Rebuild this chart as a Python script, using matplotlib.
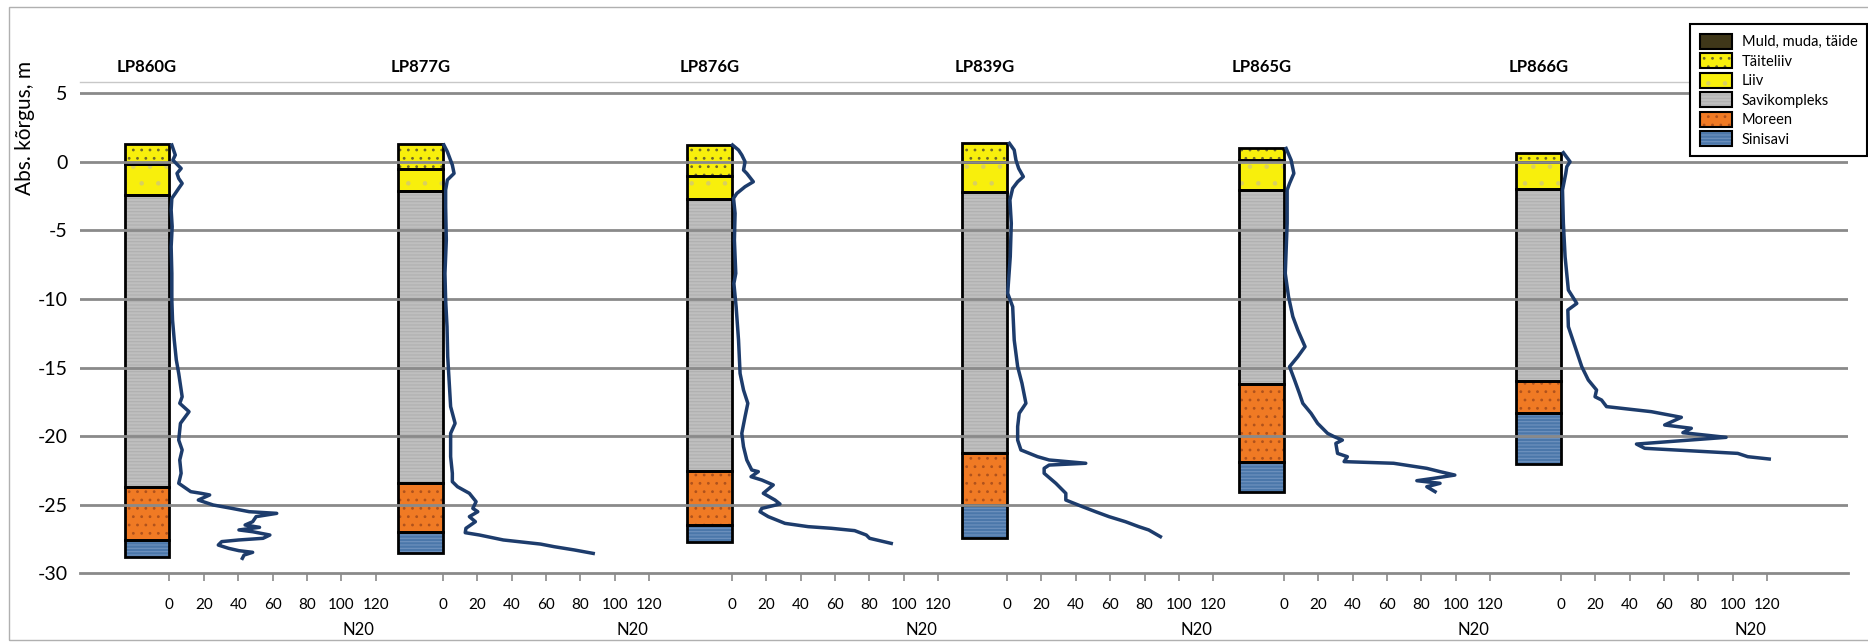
import matplotlib
matplotlib.use("Agg")
import matplotlib.pyplot as plt
import matplotlib.transforms as mtransforms
from matplotlib.patches import Patch, Rectangle
from matplotlib.legend_handler import HandlerTuple

plt.rcParams['font.family'] = ['Lato', 'DejaVu Sans']
plt.rcParams['hatch.linewidth'] = 0.8

# borehole names and where each N20 scale starts (N20 units along the shared x axis)
names = ['LP860G', 'LP877G', 'LP876G', 'LP839G', 'LP865G', 'LP866G']
origins = [52, 211, 379, 539, 700, 861]

# layer boundaries (abs. elevation, m) and lithology of each layer
bounds = [
    [1.3, -0.2, -2.4, -23.7, -27.6, -28.8],
    [1.3, -0.5, -2.1, -23.45, -27.0, -28.5],
    [1.2, -1.05, -2.7, -22.55, -26.5, -27.7],
    [1.4, 0.0, -2.2, -21.25, -25.0, -27.45],
    [1.0, 0.15, -2.05, -16.2, -21.9, -24.05],
    [0.65, 0.0, -2.0, -16.0, -18.3, -22.0],
]
layers = ['Täiteliiv', 'Liiv', 'Savikompleks', 'Moreen', 'Sinisavi']

# N20 soundings: blow counts and elevation
n20_1 = [1.4, 3.4, 2.0, 6.8, 4.4, 5.4, 7.4, 5.4, 3.4, 1.4, 1.0, 1.6, 1.0, 1.4, 1.4, 1.8, 2.8, 4.0, 5.4,
         7.4, 6.0, 11.4, 6.4, 5.4, 7.4, 6.0, 6.8, 5.4, 12.4, 18.4, 23.4, 16.8, 25.4, 36.4, 46.4, 62.4,
         50.4, 48.4, 44.0, 52.4, 40.4, 48.4, 58.4, 54.4, 40.4, 30.4, 28.4, 34.4, 40.4, 48.4, 43.4, 42.4]
z_1 = [1.22, 0.49, 0.12, -0.49, -0.85, -1.22, -1.58, -1.94, -2.31, -2.67, -3.52, -4.74, -6.19, -8.14,
       -10.08, -11.54, -13.0, -14.45, -15.43, -17.13, -17.61, -18.22, -19.07, -20.29, -21.01, -21.74,
       -22.71, -23.44, -24.05, -24.17, -24.29, -24.66, -25.02, -25.27, -25.51, -25.63, -25.87, -26.24,
       -26.48, -26.65, -26.84, -26.97, -27.21, -27.45, -27.57, -27.69, -27.94, -28.18, -28.35, -28.47,
       -28.67, -28.91]

n20_2 = [0.6, 2.6, 5.5, 6.5, 2.6, 1.6, 1.6, 2.0, 1.2, 1.6, 2.4, 2.8, 3.6, 4.5, 7.1, 4.5, 4.5, 5.5, 5.5,
         8.5, 15.4, 19.3, 17.4, 20.3, 15.4, 18.9, 13.4, 13.0, 21.3, 35.1, 56.8, 64.7, 76.5, 87.4]
z_2 = [1.22, 0.73, -0.24, -0.85, -1.33, -2.06, -3.28, -5.71, -8.14, -10.08, -12.02, -14.21, -15.91,
       -17.85, -19.07, -19.80, -21.5, -22.71, -23.32, -23.69, -24.17, -24.78, -25.27, -25.51, -25.87,
       -26.24, -26.72, -27.04, -27.21, -27.57, -27.87, -28.06, -28.30, -28.55]

n20_3 = [0.4, 3.9, 5.8, 7.7, 6.8, 8.7, 12.5, 7.7, 2.9, 1.0, 1.9, 1.5, 2.3, 1.2, 2.5, 3.9, 4.8, 6.8, 9.3,
         7.7, 5.8, 6.8, 8.7, 11.6, 15.4, 11.2, 17.4, 24.1, 18.3, 25.1, 28.0, 17.4, 16.4, 21.2, 30.9,
         44.4, 57.9, 71.4, 78.2, 80.1, 92.7]
z_3 = [1.22, 0.85, 0.49, 0.0, -0.61, -0.85, -1.46, -1.82, -2.31, -2.67, -3.76, -5.71, -8.14, -8.87,
       -10.57, -13.0, -15.43, -16.64, -17.61, -18.58, -19.80, -20.77, -21.74, -22.47, -22.59, -22.96,
       -23.20, -23.56, -24.17, -24.66, -24.95, -25.27, -25.51, -25.87, -26.36, -26.60, -26.72, -26.89,
       -27.21, -27.45, -27.82]

n20_4 = [1.4, 4.2, 5.2, 6.8, 9.5, 6.2, 3.3, 1.7, 2.5, 1.9, 0.4, 3.3, 4.2, 6.2, 8.7, 11.0, 7.1, 6.2, 6.2,
         8.1, 17.8, 24.5, 45.8, 24.5, 21.6, 21.6, 28.4, 34.2, 34.2, 43.8, 51.5, 59.3, 68.9, 76.6, 82.4,
         89.2]
z_4 = [1.34, 0.85, 0.12, -0.49, -1.09, -1.46, -1.94, -2.79, -4.49, -6.92, -9.59, -10.57, -13.0, -14.94,
       -16.15, -17.61, -18.34, -19.31, -20.29, -21.01, -21.5, -21.74, -21.98, -22.11, -22.35, -22.71,
       -23.44, -24.17, -24.66, -25.14, -25.51, -25.87, -26.24, -26.60, -26.84, -27.33]

n20_5 = [1.3, 4.2, 5.8, 3.3, 1.9, 1.9, 0.8, 2.7, 5.2, 8.1, 12.3, 8.1, 3.3, 6.2, 9.0, 11.0, 15.8, 19.6,
         25.4, 29.2, 34.0, 30.2, 31.2, 36.9, 35.0, 63.8, 83.1, 90.8, 99.4, 86.9, 77.3, 90.8, 83.1, 87.9]
z_5 = [0.97, 0.12, -0.85, -1.58, -2.06, -4.49, -8.14, -9.84, -11.29, -12.27, -13.48, -14.21, -14.94,
       -15.91, -16.88, -17.61, -18.34, -19.07, -19.80, -20.04, -20.29, -20.53, -21.26, -21.5, -21.86,
       -21.98, -22.35, -22.59, -22.84, -23.08, -23.25, -23.44, -23.69, -24.05]

n20_6 = [1.5, 5.4, 3.5, 2.9, 1.0, 1.5, 2.5, 4.4, 9.3, 4.1, 4.4, 8.3, 12.2, 16.0, 20.8, 19.9, 23.7, 26.6,
         52.7, 70.1, 60.4, 75.9, 71.0, 96.1, 44.0, 48.8, 85.5, 102.9, 108.7, 121.2]
z_6 = [0.66, 0.0, -0.36, -0.85, -2.06, -4.49, -6.92, -9.35, -10.33, -10.81, -12.02, -13.48, -14.94,
       -15.91, -16.64, -17.13, -17.37, -17.85, -18.22, -18.63, -19.19, -19.43, -19.75, -20.09, -20.58,
       -20.89, -21.14, -21.26, -21.50, -21.67]

soundings = [(n20_1, z_1), (n20_2, z_2), (n20_3, z_3), (n20_4, z_4), (n20_5, z_5), (n20_6, z_6)]

n20_ticks = [0, 20, 40, 60, 80, 100, 120]
y_ticks = [5, 0, -5, -10, -15, -20, -25, -30]

# fill colour, hatch, hatch colour of each soil type
styles = {
    'Muld, muda, täide': ('#3f3719', None, None),
    'Täiteliiv': ('#f8ef0c', '..', '#6f6a2a'),
    'Liiv': ('#f8ef0c', '.', '#d9d060'),
    'Savikompleks': ('#bfbfbf', '-----', '#b0b0b0'),
    'Moreen': ('#f07a24', '..', '#b0521c'),
    'Sinisavi': ('#4b77aa', '-----', '#7092bf'),
}

col_w = 26
line_col = '#1d3c6c'
grid_col = '#8a8a8a'

fig = plt.figure(figsize=(18.68, 6.43), dpi=100)
ax = fig.add_axes([80 / 1868, 1 - 573.3 / 643, 1768 / 1868, 491.7 / 643])
ax.set_xlim(0, 1028)
ax.set_ylim(-30, 5.84)

for name, x0, bnd, (n20, z) in zip(names, origins, bounds, soundings):
    xc = x0 - col_w / 2
    for lith, top, bot in zip(layers, bnd[:-1], bnd[1:]):
        fc, hatch, hc = styles[lith]
        ax.bar(xc, top - bot, col_w, bottom=bot, color=fc, lw=0, zorder=2)
        if hatch:
            ax.bar(xc, top - bot, col_w, bottom=bot, facecolor='none', edgecolor=hc,
                   hatch=hatch, lw=0, zorder=2.1)
        ax.bar(xc, top - bot, col_w, bottom=bot, facecolor='none', edgecolor='black',
               lw=2.0, zorder=2.2)
    ax.plot([x0 + v for v in n20], z, color=line_col, lw=2.5, zorder=4,
            solid_joinstyle='round')
    ax.text(xc, 1.03, name, transform=mtransforms.blended_transform_factory(ax.transData, ax.transAxes),
            ha='center', va='center', fontsize=12, fontweight='bold')
    ax.text(x0 + 110, -0.115, 'N20', transform=mtransforms.blended_transform_factory(ax.transData, ax.transAxes),
            ha='center', va='center', fontsize=12)

# horizontal grid over the columns
for y in y_ticks[:-1]:
    ax.axhline(y, color=grid_col, lw=2.0, zorder=3)

xt = [x0 + t for x0 in origins for t in n20_ticks]
xl = [str(t) for x0 in origins for t in n20_ticks]
ax.set_xticks(xt, xl)
ax.tick_params(axis='x', length=6, width=1.2, color=grid_col, pad=12, labelsize=11)
ax.set_yticks(y_ticks, [str(v) for v in y_ticks])
ax.tick_params(axis='y', length=0, pad=9, labelsize=14)

for s in ['left', 'right']:
    ax.spines[s].set_visible(False)
ax.spines['bottom'].set_color(grid_col)
ax.spines['bottom'].set_linewidth(2.0)
ax.spines['top'].set_color('#c8c8c8')
ax.spines['top'].set_linewidth(1.0)

fig.text(25 / 1868, 1 - 128 / 643, 'Abs. kõrgus, m', rotation=90, ha='center', va='center', fontsize=15)

# legend: fill + hatch + black outline stacked in each handle
handles = []
labels = []
for lab, (fc, hatch, hc) in styles.items():
    parts = [Patch(facecolor=fc, lw=0)]
    if hatch:
        parts.append(Patch(facecolor='none', edgecolor=hc, hatch=hatch, lw=0))
    parts.append(Patch(facecolor='none', edgecolor='black', lw=1.5))
    handles.append(tuple(parts))
    labels.append(lab)
leg = fig.legend(handles, labels, loc='upper right', bbox_to_anchor=(1.0035, 0.9736),
                 handler_map={tuple: HandlerTuple(ndivide=1, pad=0)}, fontsize=10.5,
                 frameon=True, fancybox=False, edgecolor='black', framealpha=1,
                 handlelength=2.2, handleheight=1.2, labelspacing=0.28, borderpad=0.65,
                 handletextpad=0.7)
leg.get_frame().set_linewidth(1.5)

fig.patches.append(Rectangle((0.0048, 0.004), 1.0, 0.985, transform=fig.transFigure,
                             fill=False, edgecolor='#b0b0b0', lw=1))

fig.savefig('out.png', dpi=100)
